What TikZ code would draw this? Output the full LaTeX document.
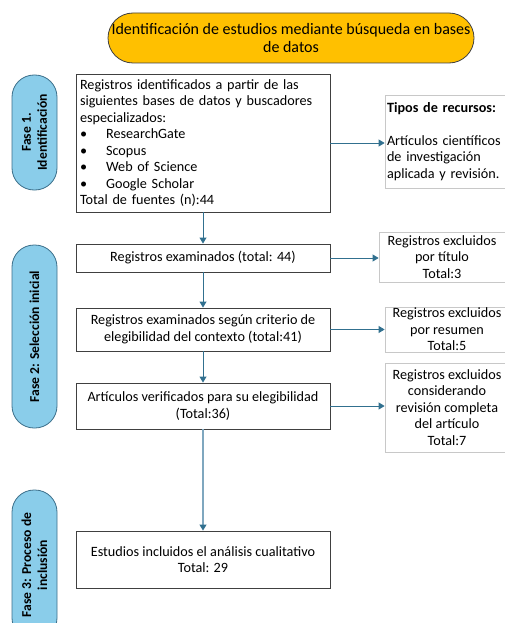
\documentclass[tikz,border=0pt]{standalone}
\usepackage{fontspec}
\setmainfont{Carlito}
\usetikzlibrary{arrows.meta,positioning}
\definecolor{bordeoscuro}{HTML}{404040}
\definecolor{bordeclaro}{HTML}{C8C8C8}
\definecolor{flechaazul}{HTML}{31708F}
\definecolor{flechaclara}{HTML}{7FA7BF}
\definecolor{fasefondo}{HTML}{8ACDEA}
\definecolor{faseborde}{HTML}{3C6F8A}
\definecolor{titulofondo}{HTML}{FFC000}
\tikzset{
  caja/.style={rectangle, draw=bordeoscuro, line width=0.9pt, minimum width=254, inner sep=3pt, align=center, font=\fontsize{14.2}{16.5}\selectfont},
  excluido/.style={rectangle, draw=bordeclaro, line width=0.8pt, inner sep=1pt, align=center, font=\fontsize{14.2}{16.5}\selectfont},
  fase/.style={rectangle, rounded corners=22pt, draw=faseborde, line width=0.8pt, fill=fasefondo, minimum height=45, rotate=90, align=center, font=\fontsize{13.6}{16}\selectfont\bfseries},
  flecha/.style={draw=flechaazul, line width=0.9pt, -{Triangle[width=7pt,length=6pt,color=flechaazul]}},
}
\begin{document}
\begin{tikzpicture}[x=1pt, y=-1pt]
\clip (0,0) rectangle (505,623);
% titulo
\node (titulo) [rectangle, rounded corners=25pt, draw=bordeoscuro, line width=0.8pt, fill=titulofondo, minimum width=366, minimum height=50, align=center, font=\fontsize{16}{18}\selectfont] at (291,38) {Identificación de estudios mediante búsqueda en bases\\de datos};
% fases
\node (fase1) [fase, minimum width=115] at (34.5,132.5) {Fase 1.\\Identificación};
\node (fase2) [fase, minimum width=183] at (34.5,336.5) {Fase 2: Selección inicial};
\node (fase3) [fase, minimum width=150] at (34.5,565) {Fase 3: Proceso de\\inclusión};
% cajas principales
\node (b1) [caja, minimum height=138, text width=246, align=left] at (203,143) {Registros identificados a partir de las\\siguientes bases de datos y buscadores\\especializados:\\
\textbullet\hspace{19pt}ResearchGate\\
\textbullet\hspace{19pt}Scopus\\
\textbullet\hspace{19pt}Web of Science\\
\textbullet\hspace{19pt}Google Scholar\\
Total de fuentes (n):44};
\node (b2) [caja, minimum height=28] at (203,258) {Registros examinados (total: 44)};
\node (b3) [caja, minimum height=43] at (203,329.5) {Registros examinados según criterio de\\elegibilidad del contexto (total:41)};
\node (b4) [caja, minimum height=46] at (203,406) {Artículos verificados para su elegibilidad\\(Total:36)};
\node (b5) [caja, minimum height=57] at (203,559.5) {Estudios incluidos el análisis cualitativo\\Total: 29};
% cajas laterales
\node (tipos) [excluido, minimum width=127, minimum height=93, text width=123, align=left] at (448.5,141.5) {\textbf{Tipos de recursos:}\\[16.5pt]Artículos científicos\\de investigación\\aplicada y revisión.};
\node (ex1) [excluido, minimum width=126, minimum height=50] at (442,257) {Registros excluidos\\por título\\Total:3};
\node (ex2) [excluido, minimum width=124, minimum height=43] at (447,329.5) {Registros excluidos\\por resumen\\Total:5};
\node (ex3) [excluido, minimum width=124, minimum height=89] at (447,407.5) {Registros excluidos\\considerando\\revisión completa\\del artículo\\Total:7};
% flechas
\draw [flecha] (b1.east) -- (b1.east -| tipos.west);
\draw [flecha] (b2.east) -- (b2.east -| ex1.west);
\draw [flecha] (b3.east) -- (b3.east -| ex2.west);
\draw [flecha] (b4.east) -- (b4.east -| ex3.west);
\draw [flecha] (b1) -- (b2);
\draw [flecha] (b2) -- (b3);
\draw [flecha] (b3) -- (b4);
\draw [flecha, draw=flechaclara, line width=1.2pt] (b4) -- (b5);
\end{tikzpicture}
\end{document}
